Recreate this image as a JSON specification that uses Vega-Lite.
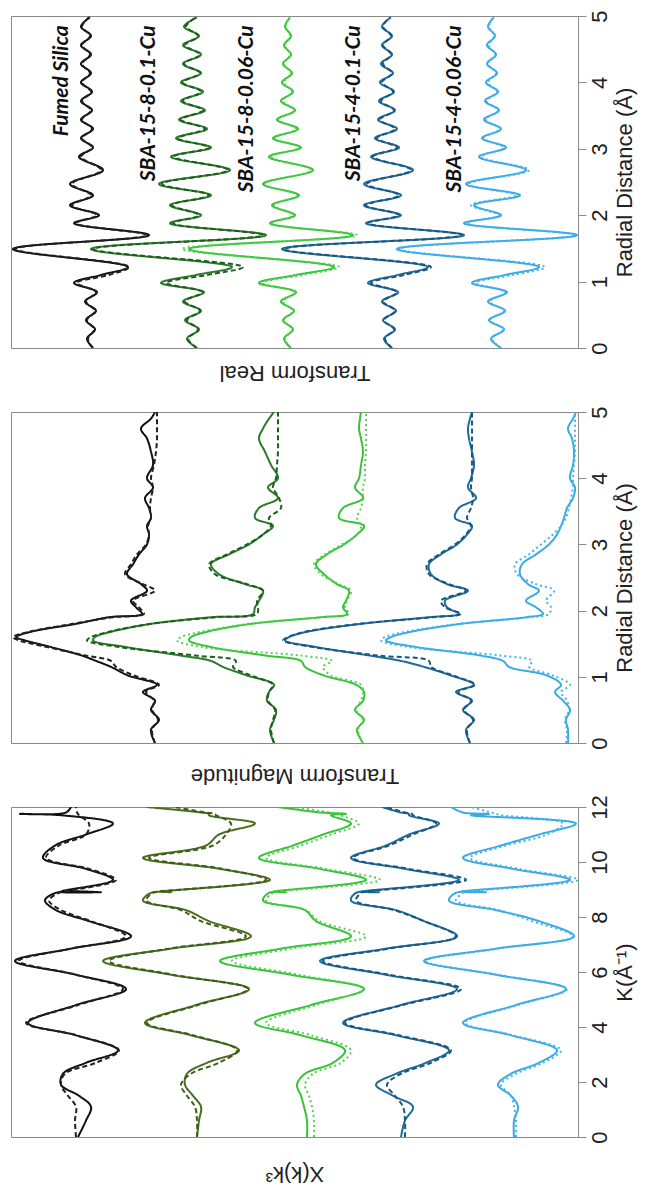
{
"$schema": "https://vega.github.io/schema/vega-lite/v6.json",
"background": "white",
"padding": {"left": 10, "top": 9, "right": 5, "bottom": 2},
"config": {"view": {"stroke": "#8a8a8a", "strokeWidth": 1}, "font": "Liberation Sans"},
"datasets": {
"real": [
{"r":0,"fs":92,"fsF":92,"a":196,"aF":196,"b":290,"bF":290,"c":391,"cF":391,"d":500,"dF":500},
{"r":0.14,"fs":86,"fsF":87,"a":186,"aF":187,"b":283,"bF":284,"c":383,"cF":384,"d":490,"dF":491},
{"r":0.28,"fs":94,"fsF":93,"a":198,"aF":197,"b":292,"bF":291,"c":394,"cF":393,"d":503,"dF":502},
{"r":0.42,"fs":85,"fsF":86,"a":184,"aF":186,"b":282,"bF":283,"c":382,"cF":383,"d":488,"dF":489},
{"r":0.56,"fs":95,"fsF":94,"a":200,"aF":199,"b":293,"bF":292,"c":395,"cF":394,"d":504,"dF":503},
{"r":0.70,"fs":84,"fsF":85,"a":182,"aF":184,"b":280,"bF":282,"c":381,"cF":382,"d":487,"dF":489},
{"r":0.84,"fs":96,"fsF":95,"a":203,"aF":201,"b":295,"bF":294,"c":397,"cF":396,"d":506,"dF":504},
{"r":0.98,"fs":73,"fsF":76,"a":160,"aF":165,"b":258,"bF":262,"c":367,"cF":370,"d":471,"dF":475},
{"r":1.1,"fs":100,"fsF":108,"a":195,"aF":206,"b":295,"bF":302,"c":397,"cF":403,"d":504,"dF":512},
{"r":1.22,"fs":127,"fsF":128,"a":231,"aF":242,"b":333,"bF":338,"c":427,"cF":430,"d":538,"dF":544},
{"r":1.49,"fs":12,"fsF":14,"a":90,"aF":92,"b":188,"bF":181,"c":281,"cF":283,"d":396,"dF":398},
{"r":1.70,"fs":148,"fsF":146,"a":265,"aF":262,"b":352,"bF":356,"c":463,"cF":461,"d":576,"dF":574},
{"r":1.88,"fs":73,"fsF":75,"a":169,"aF":172,"b":269,"bF":271,"c":365,"cF":367,"d":463,"dF":466},
{"r":2.0,"fs":98,"fsF":96,"a":200,"aF":198,"b":294,"bF":292,"c":400,"cF":398,"d":500,"dF":498},
{"r":2.15,"fs":69,"fsF":71,"a":169,"aF":171,"b":271,"bF":273,"c":363,"cF":365,"d":473,"dF":470},
{"r":2.3,"fs":92,"fsF":90,"a":210,"aF":208,"b":298,"bF":296,"c":400,"cF":398,"d":519,"dF":514},
{"r":2.47,"fs":69,"fsF":71,"a":158,"aF":161,"b":262,"bF":264,"c":363,"cF":366,"d":465,"dF":468},
{"r":2.68,"fs":102,"fsF":100,"a":229,"aF":227,"b":312,"bF":310,"c":412,"cF":410,"d":525,"dF":528},
{"r":2.88,"fs":78,"fsF":80,"a":170,"aF":173,"b":268,"bF":271,"c":370,"cF":372,"d":478,"dF":480},
{"r":3.02,"fs":92,"fsF":91,"a":210,"aF":208,"b":300,"bF":298,"c":398,"cF":396,"d":505,"dF":503},
{"r":3.16,"fs":80,"fsF":81,"a":175,"aF":177,"b":272,"bF":274,"c":374,"cF":376,"d":481,"dF":483},
{"r":3.30,"fs":92,"fsF":91,"a":206,"aF":204,"b":297,"bF":295,"c":396,"cF":394,"d":500,"dF":499},
{"r":3.44,"fs":80,"fsF":81,"a":178,"aF":180,"b":276,"bF":278,"c":377,"cF":379,"d":483,"dF":485},
{"r":3.58,"fs":91,"fsF":90,"a":204,"aF":202,"b":294,"bF":293,"c":394,"cF":393,"d":498,"dF":497},
{"r":3.72,"fs":80,"fsF":81,"a":180,"aF":182,"b":280,"bF":282,"c":378,"cF":380,"d":484,"dF":486},
{"r":3.86,"fs":91,"fsF":90,"a":202,"aF":200,"b":292,"bF":291,"c":393,"cF":392,"d":497,"dF":496},
{"r":4.0,"fs":80,"fsF":81,"a":180,"aF":182,"b":281,"bF":283,"c":379,"cF":381,"d":485,"dF":487},
{"r":4.14,"fs":90,"fsF":89,"a":200,"aF":199,"b":291,"bF":290,"c":392,"cF":391,"d":496,"dF":495},
{"r":4.28,"fs":80,"fsF":81,"a":182,"aF":183,"b":282,"bF":283,"c":380,"cF":382,"d":486,"dF":487},
{"r":4.42,"fs":90,"fsF":89,"a":200,"aF":199,"b":290,"bF":289,"c":391,"cF":390,"d":495,"dF":494},
{"r":4.56,"fs":80,"fsF":81,"a":182,"aF":184,"b":283,"bF":284,"c":381,"cF":382,"d":486,"dF":488},
{"r":4.70,"fs":90,"fsF":89,"a":198,"aF":197,"b":290,"bF":289,"c":391,"cF":390,"d":494,"dF":493},
{"r":4.84,"fs":80,"fsF":81,"a":183,"aF":185,"b":284,"bF":285,"c":381,"cF":382,"d":487,"dF":488},
{"r":4.98,"fs":89,"fsF":88,"a":196,"aF":195,"b":289,"bF":288,"c":390,"cF":389,"d":493,"dF":492}
],
"labels": [
{"name":"Fumed Silica","r":4.86,"value":61},
{"name":"SBA-15-8-0.1-Cu","r":4.86,"value":148},
{"name":"SBA-15-8-0.06-Cu","r":4.86,"value":246},
{"name":"SBA-15-4-0.1-Cu","r":4.86,"value":353},
{"name":"SBA-15-4-0.06-Cu","r":4.86,"value":454}
],
"mag": [
{"r":0,"fs":154,"fsF":154,"a":273,"aF":273,"b":362,"bF":362,"c":469,"cF":469,"d":567,"dF":565},
{"r":0.2,"fs":150,"fsF":151,"a":269,"aF":270,"b":356,"bF":357,"c":465,"cF":466,"d":567,"dF":566},
{"r":0.35,"fs":158,"fsF":157,"a":273,"aF":272,"b":363,"bF":362,"c":473,"cF":472,"d":565,"dF":564},
{"r":0.5,"fs":150,"fsF":151,"a":275,"aF":274,"b":354,"bF":355,"c":462,"cF":463,"d":569,"dF":568},
{"r":0.64,"fs":154,"fsF":153,"a":266,"aF":267,"b":362,"bF":360,"c":471,"cF":470,"d":562,"dF":566},
{"r":0.77,"fs":142,"fsF":145,"a":268,"aF":268,"b":363,"bF":362,"c":455,"cF":457,"d":554,"dF":560},
{"r":0.88,"fs":156,"fsF":158,"a":273,"aF":272,"b":355,"bF":360,"c":473,"cF":474,"d":560,"dF":569},
{"r":1.02,"fs":127,"fsF":133,"a":246,"aF":250,"b":323,"bF":330,"c":450,"cF":452,"d":546,"dF":552},
{"r":1.15,"fs":110,"fsF":115,"a":222,"aF":232,"b":304,"bF":322,"c":423,"cF":430,"d":508,"dF":528},
{"r":1.24,"fs":95,"fsF":110,"a":210,"aF":235,"b":300,"bF":331,"c":400,"cF":428,"d":502,"dF":531},
{"r":1.32,"fs":81,"fsF":85,"a":180,"aF":195,"b":265,"bF":300,"c":369,"cF":378,"d":480,"dF":500},
{"r":1.45,"fs":50,"fsF":46,"a":125,"aF":118,"b":210,"bF":200,"c":315,"cF":312,"d":415,"dF":408},
{"r":1.55,"fs":24,"fsF":18,"a":92,"aF":86,"b":188,"bF":176,"c":284,"cF":282,"d":385,"dF":380},
{"r":1.6,"fs":15,"fsF":12,"a":94,"aF":90,"b":190,"bF":180,"c":288,"cF":287,"d":390,"dF":384},
{"r":1.68,"fs":30,"fsF":28,"a":110,"aF":108,"b":206,"bF":200,"c":306,"cF":304,"d":410,"dF":405},
{"r":1.8,"fs":75,"fsF":72,"a":150,"aF":150,"b":250,"bF":248,"c":360,"cF":358,"d":460,"dF":458},
{"r":1.9,"fs":108,"fsF":112,"a":210,"aF":215,"b":320,"bF":320,"c":428,"cF":432,"d":525,"dF":530},
{"r":1.95,"fs":141,"fsF":143,"a":252,"aF":256,"b":346,"bF":348,"c":458,"cF":460,"d":542,"dF":548},
{"r":2.05,"fs":135,"fsF":138,"a":254,"aF":257,"b":342,"bF":344,"c":446,"cF":444,"d":535,"dF":550},
{"r":2.15,"fs":130,"fsF":132,"a":258,"aF":256,"b":345,"bF":346,"c":444,"cF":440,"d":525,"dF":545},
{"r":2.3,"fs":146,"fsF":154,"a":262,"aF":262,"b":348,"bF":350,"c":467,"cF":465,"d":538,"dF":553},
{"r":2.4,"fs":140,"fsF":142,"a":244,"aF":246,"b":336,"bF":338,"c":446,"cF":448,"d":527,"dF":535},
{"r":2.55,"fs":126,"fsF":124,"a":218,"aF":214,"b":323,"bF":320,"c":430,"cF":428,"d":519,"dF":516},
{"r":2.7,"fs":132,"fsF":130,"a":210,"aF":208,"b":315,"bF":313,"c":428,"cF":426,"d":521,"dF":514},
{"r":2.85,"fs":138,"fsF":136,"a":228,"aF":226,"b":326,"bF":324,"c":440,"cF":438,"d":535,"dF":528},
{"r":3.0,"fs":146,"fsF":145,"a":248,"aF":246,"b":343,"bF":341,"c":456,"cF":454,"d":548,"dF":540},
{"r":3.15,"fs":148,"fsF":148,"a":262,"aF":262,"b":356,"bF":356,"c":466,"cF":465,"d":556,"dF":552},
{"r":3.28,"fs":146,"fsF":147,"a":272,"aF":270,"b":363,"bF":360,"c":471,"cF":470,"d":560,"dF":560},
{"r":3.4,"fs":150,"fsF":150,"a":254,"aF":268,"b":338,"bF":356,"c":454,"cF":466,"d":563,"dF":565},
{"r":3.55,"fs":148,"fsF":149,"a":258,"aF":280,"b":342,"bF":360,"c":458,"cF":470,"d":566,"dF":568},
{"r":3.7,"fs":144,"fsF":150,"a":277,"aF":278,"b":362,"bF":362,"c":475,"cF":472,"d":572,"dF":570},
{"r":3.86,"fs":152,"fsF":152,"a":267,"aF":272,"b":354,"bF":362,"c":467,"cF":470,"d":574,"dF":572},
{"r":4.0,"fs":146,"fsF":150,"a":277,"aF":275,"b":358,"bF":364,"c":470,"cF":471,"d":569,"dF":572},
{"r":4.2,"fs":152,"fsF":153,"a":270,"aF":276,"b":360,"bF":364,"c":473,"cF":471,"d":572,"dF":573},
{"r":4.4,"fs":150,"fsF":155,"a":264,"aF":277,"b":362,"bF":365,"c":471,"cF":471,"d":573,"dF":574},
{"r":4.6,"fs":146,"fsF":156,"a":258,"aF":277,"b":360,"bF":365,"c":468,"cF":471,"d":571,"dF":574},
{"r":4.75,"fs":140,"fsF":156,"a":262,"aF":277,"b":358,"bF":365,"c":467,"cF":471,"d":567,"dF":574},
{"r":4.9,"fs":150,"fsF":156,"a":268,"aF":277,"b":359,"bF":365,"c":469,"cF":471,"d":572,"dF":574},
{"r":5.0,"fs":154,"fsF":156,"a":273,"aF":277,"b":360,"bF":365,"c":471,"cF":471,"d":575,"dF":574}
],
"chi": [
{"k":0,"fs":77,"fsF":75,"a":196,"aF":196,"b":306,"bF":313,"c":400,"cF":404,"d":513,"dF":515},
{"k":0.6,"fs":85,"fsF":74,"a":198,"aF":196,"b":306,"bF":313,"c":404,"cF":404,"d":513,"dF":515},
{"k":1.1,"fs":90,"fsF":75,"a":200,"aF":194,"b":303,"bF":311,"c":412,"cF":402,"d":517,"dF":513},
{"k":1.5,"fs":78,"fsF":67,"a":192,"aF":186,"b":300,"bF":308,"c":392,"cF":394,"d":510,"dF":510},
{"k":1.9,"fs":60,"fsF":60,"a":184,"aF":180,"b":296,"bF":304,"c":375,"cF":386,"d":497,"dF":500},
{"k":2.3,"fs":62,"fsF":64,"a":186,"aF":190,"b":304,"bF":312,"c":395,"cF":400,"d":510,"dF":515},
{"k":2.7,"fs":85,"fsF":95,"a":206,"aF":218,"b":332,"bF":340,"c":425,"cF":430,"d":538,"dF":542},
{"k":3.15,"fs":117,"fsF":118,"a":238,"aF":236,"b":344,"bF":350,"c":448,"cF":450,"d":556,"dF":560},
{"k":3.7,"fs":75,"fsF":75,"a":190,"aF":192,"b":300,"bF":310,"c":395,"cF":398,"d":510,"dF":512},
{"k":4.15,"fs":27,"fsF":25,"a":144,"aF":146,"b":254,"bF":265,"c":342,"cF":344,"d":462,"dF":464},
{"k":4.8,"fs":75,"fsF":77,"a":195,"aF":197,"b":310,"bF":315,"c":400,"cF":402,"d":515,"dF":517},
{"k":5.38,"fs":125,"fsF":122,"a":248,"aF":247,"b":363,"bF":363,"c":456,"cF":460,"d":565,"dF":566},
{"k":5.9,"fs":75,"fsF":75,"a":170,"aF":172,"b":290,"bF":298,"c":385,"cF":388,"d":495,"dF":497},
{"k":6.4,"fs":14,"fsF":18,"a":102,"aF":108,"b":219,"bF":231,"c":319,"cF":322,"d":423,"dF":425},
{"k":6.85,"fs":70,"fsF":70,"a":170,"aF":168,"b":280,"bF":290,"c":385,"cF":388,"d":495,"dF":497},
{"k":7.3,"fs":130,"fsF":125,"a":250,"aF":245,"b":350,"bF":365,"c":456,"cF":455,"d":573,"dF":572},
{"k":7.85,"fs":88,"fsF":90,"a":208,"aF":200,"b":315,"bF":318,"c":423,"cF":423,"d":538,"dF":531},
{"k":8.25,"fs":55,"fsF":60,"a":185,"aF":180,"b":304,"bF":305,"c":395,"cF":393,"d":495,"dF":498},
{"k":8.6,"fs":44,"fsF":48,"a":142,"aF":145,"b":262,"bF":265,"c":350,"cF":355,"d":448,"dF":455},
{"k":8.88,"fs":55,"fsF":58,"a":150,"aF":152,"b":268,"bF":272,"c":355,"cF":360,"d":455,"dF":462},
{"k":8.9,"fs":100,"fsF":60,"a":170,"aF":154,"b":285,"bF":274,"c":378,"cF":361,"d":485,"dF":463},
{"k":8.92,"fs":60,"fsF":62,"a":160,"aF":156,"b":272,"bF":276,"c":360,"cF":363,"d":460,"dF":465},
{"k":9.35,"fs":112,"fsF":115,"a":269,"aF":265,"b":365,"bF":379,"c":458,"cF":465,"d":569,"dF":577},
{"k":9.75,"fs":85,"fsF":88,"a":219,"aF":222,"b":319,"bF":325,"c":404,"cF":408,"d":512,"dF":518},
{"k":10.15,"fs":42,"fsF":45,"a":142,"aF":148,"b":258,"bF":265,"c":350,"cF":352,"d":462,"dF":469},
{"k":10.6,"fs":54,"fsF":58,"a":205,"aF":212,"b":292,"bF":300,"c":385,"cF":388,"d":500,"dF":505},
{"k":11.0,"fs":85,"fsF":85,"a":218,"aF":225,"b":322,"bF":330,"c":408,"cF":412,"d":538,"dF":546},
{"k":11.4,"fs":112,"fsF":88,"a":254,"aF":230,"b":350,"bF":358,"c":438,"cF":435,"d":575,"dF":562},
{"k":11.7,"fs":60,"fsF":78,"a":208,"aF":215,"b":330,"bF":340,"c":408,"cF":412,"d":470,"dF":500},
{"k":11.75,"fs":19,"fsF":77,"a":208,"aF":214,"b":345,"bF":338,"c":408,"cF":411,"d":488,"dF":495},
{"k":11.8,"fs":65,"fsF":76,"a":200,"aF":205,"b":320,"bF":330,"c":400,"cF":404,"d":462,"dF":490},
{"k":12,"fs":70,"fsF":75,"a":146,"aF":173,"b":277,"bF":292,"c":381,"cF":385,"d":450,"dF":470}
]
},
"spacing": 64,
"bounds": "flush",
"resolve": {"scale": {"x": "independent", "y": "independent", "color": "independent", "strokeDash": "independent"}},
"vconcat": [
{
"width": 567, "height": 332,
"encoding": {
"y": {"field": "r", "type": "quantitative", "scale": {"domain": [0, 5], "nice": false, "zero": false},
 "axis": {"orient": "right", "values": [0,1,2,3,4,5], "title": "Radial Distance (Å)", "grid": false, "tickSize": 8, "tickColor": "#8a8a8a", "domainColor": "#8a8a8a", "labelFontSize": 22, "labelAngle": 270, "labelAlign": "center", "labelBaseline": "top", "labelPadding": 3, "labelColor": "#222222", "labelFlush": false, "labelOverlap": false, "titleFontSize": 22, "titleFontWeight": "normal", "titleAngle": 270, "titleBaseline": "top", "titlePadding": 4, "titleColor": "#222222"}},
"x": {"field": "value", "type": "quantitative", "scale": {"domain": [10, 577], "nice": false, "zero": false},
 "axis": {"orient": "bottom", "title": "Transform Real", "domain": false, "ticks": false, "labels": false, "grid": false, "titleAngle": 180, "titleBaseline": "bottom", "titleFontSize": 22, "titleFontWeight": "normal", "titlePadding": 12, "titleColor": "#222222"}}
},
"layer": [
{
"data": {"name": "real"},
"transform": [{"fold": ["fs","fsF","a","aF","b","bF","c","cF","d","dF"], "as": ["curve", "value"]}],
"mark": {"type": "line", "interpolate": "catmull-rom", "strokeWidth": 2, "clip": true},
"encoding": {
"color": {"field": "curve", "type": "nominal", "legend": null, "scale": {"domain": ["fs","fsF","a","aF","b","bF","c","cF","d","dF"], "range": ["#111111","#222222","#2a7a2a","#1d5e1d","#36c436","#56cf56","#1f6a99","#1a5780","#3aaae6","#44b2ec"]}},
"strokeDash": {"field": "curve", "type": "nominal", "legend": null, "scale": {"domain": ["fs","fsF","a","aF","b","bF","c","cF","d","dF"], "range": [[1,0],[5,3],[1,0],[5,3],[1,0],[2,3],[1,0],[5,3],[1,0],[2,3]]}},
"order": {"field": "r", "type": "quantitative"}
}
},
{
"data": {"name": "labels"},
"mark": {"type": "text", "angle": 270, "align": "right", "baseline": "middle", "font": "Lato", "fontStyle": "italic", "fontWeight": "bold", "fontSize": 21, "color": "#111111"},
"encoding": {"text": {"field": "name", "type": "nominal"}}
}
]
},
{
"width": 567, "height": 331,
"data": {"name": "mag"},
"transform": [{"fold": ["fs","fsF","a","aF","b","bF","c","cF","d","dF"], "as": ["curve", "value"]}],
"mark": {"type": "line", "interpolate": "catmull-rom", "strokeWidth": 2, "clip": true},
"encoding": {
"y": {"field": "r", "type": "quantitative", "scale": {"domain": [0, 5], "nice": false, "zero": false},
 "axis": {"orient": "right", "values": [0,1,2,3,4,5], "title": "Radial Distance (Å)", "grid": false, "tickSize": 8, "tickColor": "#8a8a8a", "domainColor": "#8a8a8a", "labelFontSize": 22, "labelAngle": 270, "labelAlign": "center", "labelBaseline": "top", "labelPadding": 3, "labelColor": "#222222", "labelFlush": false, "labelOverlap": false, "titleFontSize": 22, "titleFontWeight": "normal", "titleAngle": 270, "titleBaseline": "top", "titlePadding": 4, "titleColor": "#222222"}},
"x": {"field": "value", "type": "quantitative", "scale": {"domain": [10, 577], "nice": false, "zero": false},
 "axis": {"orient": "bottom", "title": "Transform Magnitude", "domain": false, "ticks": false, "labels": false, "grid": false, "titleAngle": 180, "titleBaseline": "bottom", "titleFontSize": 22, "titleFontWeight": "normal", "titlePadding": 20, "titleColor": "#222222"}},
"color": {"field": "curve", "type": "nominal", "legend": null, "scale": {"domain": ["fs","fsF","a","aF","b","bF","c","cF","d","dF"], "range": ["#111111","#222222","#2a7a2a","#1d5e1d","#36c436","#56cf56","#1f6a99","#1a5780","#3aaae6","#44b2ec"]}},
"strokeDash": {"field": "curve", "type": "nominal", "legend": null, "scale": {"domain": ["fs","fsF","a","aF","b","bF","c","cF","d","dF"], "range": [[1,0],[5,3],[1,0],[5,3],[1,0],[2,3],[1,0],[5,3],[1,0],[2,3]]}},
"order": {"field": "r", "type": "quantitative"}
}
},
{
"width": 567, "height": 330,
"data": {"name": "chi"},
"transform": [{"fold": ["fs","fsF","a","aF","b","bF","c","cF","d","dF"], "as": ["curve", "value"]}],
"mark": {"type": "line", "interpolate": "catmull-rom", "strokeWidth": 2, "clip": true},
"encoding": {
"y": {"field": "k", "type": "quantitative", "scale": {"domain": [0, 12], "nice": false, "zero": false},
 "axis": {"orient": "right", "values": [0,2,4,6,8,10,12], "title": "K(Å⁻¹)", "grid": false, "tickSize": 8, "tickColor": "#8a8a8a", "domainColor": "#8a8a8a", "labelFontSize": 22, "labelAngle": 270, "labelAlign": "center", "labelBaseline": "top", "labelPadding": 3, "labelColor": "#222222", "labelFlush": false, "labelOverlap": false, "titleFontSize": 22, "titleFontWeight": "normal", "titleAngle": 270, "titleBaseline": "top", "titlePadding": 4, "titleColor": "#222222"}},
"x": {"field": "value", "type": "quantitative", "scale": {"domain": [10, 577], "nice": false, "zero": false},
 "axis": {"orient": "bottom", "title": "X(k)k³", "domain": false, "ticks": false, "labels": false, "grid": false, "titleAngle": 180, "titleBaseline": "bottom", "titleFontSize": 22, "titleFontWeight": "normal", "titlePadding": 24, "titleColor": "#222222"}},
"color": {"field": "curve", "type": "nominal", "legend": null, "scale": {"domain": ["fs","fsF","a","aF","b","bF","c","cF","d","dF"], "range": ["#111111","#222222","#4b6e1d","#3f5c18","#36c436","#56cf56","#1f6a99","#1a5780","#3aaae6","#44b2ec"]}},
"strokeDash": {"field": "curve", "type": "nominal", "legend": null, "scale": {"domain": ["fs","fsF","a","aF","b","bF","c","cF","d","dF"], "range": [[1,0],[5,3],[1,0],[5,3],[1,0],[2,3],[1,0],[5,3],[1,0],[2,3]]}},
"order": {"field": "k", "type": "quantitative"}
}
}
]
}
